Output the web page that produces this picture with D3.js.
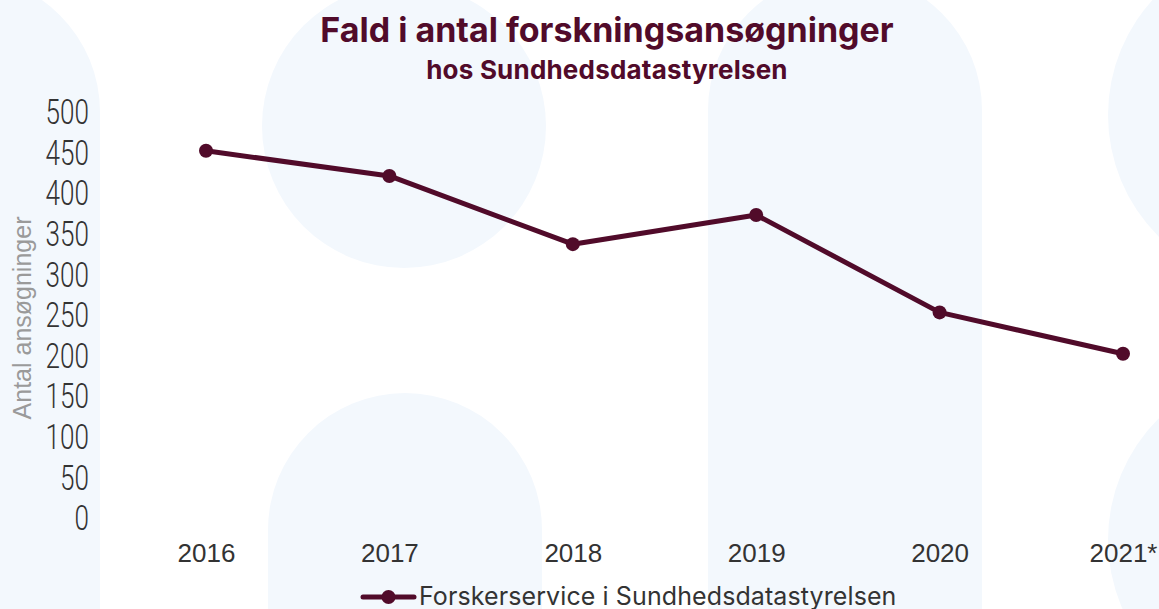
<!DOCTYPE html>
<html>
<head>
<meta charset="utf-8">
<script src="https://cdn.jsdelivr.net/npm/d3@7"></script>
<style>
  html, body { margin: 0; padding: 0; background: #fff; }
  svg { display: block; }
</style>
</head>
<body>
<svg id="chart"></svg>
<script>
(() => {

  const years = ['2016', '2017', '2018', '2019', '2020', '2021*'];
  const applications = [451, 420, 336, 372, 252, 201];
  const yTicks = [0, 50, 100, 150, 200, 250, 300, 350, 400, 450, 500];
  const seriesName = 'Forskerservice i Sundhedsdatastyrelsen';

  const MAROON = '#510b2a';
  const SHAPE = '#f3f8fd';

  // decorative background blobs (columns with round tops and circles)
  const columns = [
    { cx: -37, cy: 112, r: 137 },
    { cx: 845, cy: 110, r: 137 },
    { cx: 405, cy: 530, r: 137 }
  ];
  const circles = [
    { cx: 404, cy: 126, r: 142 },
    { cx: 1279, cy: 115, r: 171 },
    { cx: 1279, cy: 540, r: 171 }
  ];

  document.addEventListener('DOMContentLoaded', () => {
    drawChart();
  });

  function drawChart() {
    const svgWidth = 1159;
    const svgHeight = 609;

    const svg = d3.select('#chart')
      .attr('width', svgWidth)
      .attr('height', svgHeight);

    const bg = svg.append('g');

    bg.selectAll('.column')
      .data(columns)
      .enter()
      .append('path')
      .attr('fill', SHAPE)
      .attr('d', c => `M${c.cx - c.r},${svgHeight} L${c.cx - c.r},${c.cy} A${c.r},${c.r} 0 0 1 ${c.cx + c.r},${c.cy} L${c.cx + c.r},${svgHeight} Z`);

    bg.selectAll('.circle')
      .data(circles)
      .enter()
      .append('circle')
      .attr('fill', SHAPE)
      .attr('cx', c => c.cx)
      .attr('cy', c => c.cy)
      .attr('r', c => c.r);

    const xScale = d3.scalePoint()
      .domain(years)
      .range([206, 1123]);

    const yScale = d3.scaleLinear()
      .domain([0, 500])
      .range([517, 111]);

    // y axis, light condensed digits
    const squeeze = 0.745;
    const yAxis = svg.append('g')
      .attr('transform', 'translate(89,0)')
      .call(d3.axisLeft(yScale).tickValues(yTicks).tickSize(0).tickPadding(0));
    yAxis.select('.domain').remove();
    yAxis.selectAll('text')
      .attr('x', 0)
      .attr('dy', '0.36em')
      .attr('transform', `scale(${squeeze},1)`)
      .attr('fill', '#333')
      .style('font-family', 'Roboto, sans-serif')
      .style('font-weight', 300)
      .style('font-size', '35px');

    svg.append('text')
      .attr('transform', 'translate(31,318) rotate(-90)')
      .attr('text-anchor', 'middle')
      .attr('fill', '#9a9a9a')
      .style('font-family', '"Liberation Sans", Arial, sans-serif')
      .style('font-size', '25px')
      .text('Antal ansøgninger');

    // x axis
    const xAxis = svg.append('g')
      .attr('transform', 'translate(0,544)')
      .call(d3.axisBottom(xScale).tickSize(0).tickPadding(0));
    xAxis.select('.domain').remove();
    xAxis.selectAll('text')
      .attr('dy', '0.71em')
      .attr('fill', '#333')
      .style('font-family', '"Liberation Sans", Arial, sans-serif')
      .style('font-size', '26px');

    const points = years.map((year, i) => ({ year, value: applications[i] }));

    const line = d3.line()
      .x(d => xScale(d.year))
      .y(d => yScale(d.value));

    svg.append('path')
      .datum(points)
      .attr('fill', 'none')
      .attr('stroke', MAROON)
      .attr('stroke-width', 5)
      .attr('stroke-linejoin', 'round')
      .attr('d', line);

    svg.selectAll('.dot')
      .data(points)
      .enter()
      .append('circle')
      .attr('cx', d => xScale(d.year))
      .attr('cy', d => yScale(d.value))
      .attr('r', 7)
      .attr('fill', MAROON);

    // titles
    svg.append('text')
      .attr('x', 607)
      .attr('y', 42)
      .attr('text-anchor', 'middle')
      .attr('fill', MAROON)
      .style('font-family', 'Inter, sans-serif')
      .style('font-weight', 700)
      .style('font-size', '34px')
      .style('letter-spacing', '0px')
      .text('Fald i antal forskningsansøgninger');

    svg.append('text')
      .attr('x', 607)
      .attr('y', 79)
      .attr('text-anchor', 'middle')
      .attr('fill', MAROON)
      .style('font-family', 'Inter, sans-serif')
      .style('font-weight', 700)
      .style('font-size', '26px')
      .style('letter-spacing', '0.2px')
      .text('hos Sundhedsdatastyrelsen');

    // legend
    const legend = svg.append('g')
      .attr('transform', 'translate(363,597)');
    legend.append('line')
      .attr('x1', 0)
      .attr('x2', 51)
      .attr('stroke', MAROON)
      .attr('stroke-width', 5)
      .attr('stroke-linecap', 'round');
    legend.append('circle')
      .attr('cx', 25.5)
      .attr('r', 7)
      .attr('fill', MAROON);
    legend.append('text')
      .attr('x', 56)
      .attr('y', 8)
      .attr('fill', '#333')
      .style('font-family', 'Inter, sans-serif')
      .style('font-size', '25px')
      .style('letter-spacing', '0.1px')
      .text(seriesName);
  }

})();
</script>
</body>
</html>
